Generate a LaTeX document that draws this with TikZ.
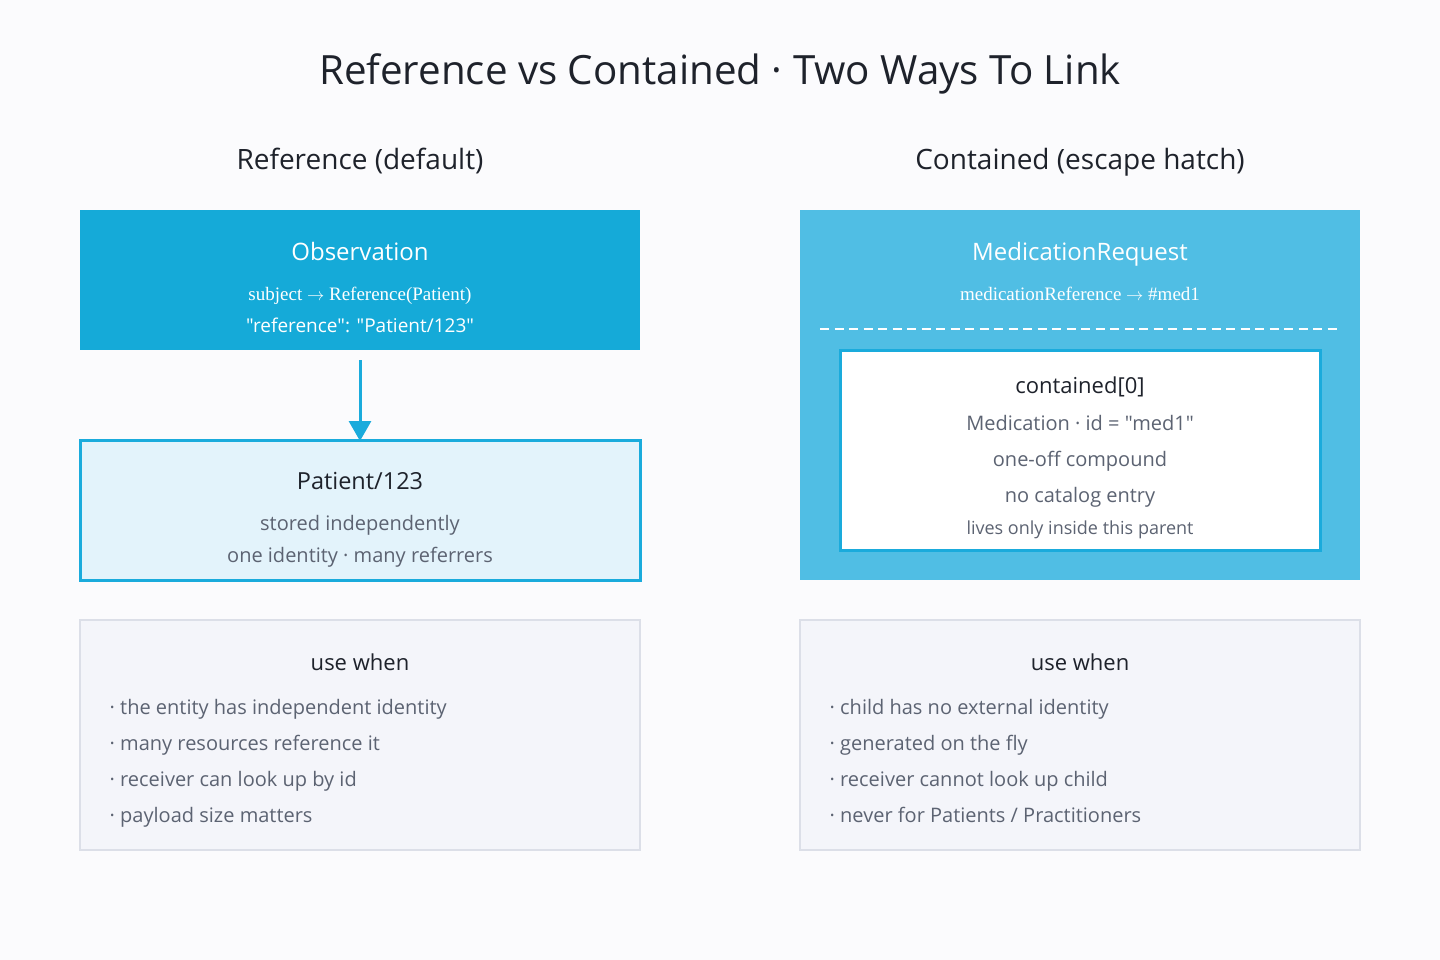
\documentclass[tikz,border=0pt]{standalone}
\usepackage{fontspec}
\setmainfont{Open Sans}[Ligatures=TeXOff]
\newfontfamily\serifx{Liberation Serif}
\usetikzlibrary{arrows.meta}
\definecolor{bg}{HTML}{FBFBFD}
\definecolor{obsblue}{HTML}{15AAD8}
\definecolor{medblue}{HTML}{50BEE4}
\definecolor{edgeblue}{HTML}{1AABDC}
\definecolor{patfill}{HTML}{E3F3FB}
\definecolor{usefill}{HTML}{F4F5FA}
\definecolor{useedge}{HTML}{DCDFE8}
\definecolor{darktext}{HTML}{1E222B}
\definecolor{graytext}{HTML}{5C6372}
\newcommand{\qq}{\symbol{34}}
\newcommand{\sarrow}{\ $\rightarrow$\ }
\tikzset{
  txt/.style={inner sep=0pt, anchor=base, align=center},
  fs/.style={font=\fontsize{#1}{#1}\selectfont},
}
\begin{document}
\begin{tikzpicture}[x=1pt,y=-1pt]
\fill[bg] (0,0) rectangle (1440,960);
\useasboundingbox (0,0) rectangle (1440,960);
% title
\node[txt,fs=40.3,text=darktext] (title) at (720,84.5) {Reference vs Contained · Two Ways To Link};
\node[txt,fs=28,text=darktext] (hl) at (360,170) {Reference (default)};
\node[txt,fs=28,text=darktext] (hr) at (1080,170) {Contained (escape hatch)};
% left: observation
\path[fill=obsblue] (80,210) rectangle (640,350);
\coordinate (obsbot) at (360,360);
\node[txt,fs=24,text=white] (obs) at (360,260.5) {Observation};
\node[txt,fs=19,text=white] (obs1) at (360,300) {\serifx subject\sarrow Reference(Patient)};
\node[txt,fs=19,text=white] (obs2) at (360,332) {\qq reference\qq: \qq Patient/123\qq};
% patient
\draw[fill=patfill, draw=edgeblue, line width=3pt] (80,440) rectangle (640,580);
\coordinate (pattop) at (360,441);
\node[txt,fs=23.5,text=darktext] (pat) at (360,489.5) {Patient/123};
\node[txt,fs=20,text=graytext] (pat1) at (360,530.2) {stored independently};
\node[txt,fs=20,text=graytext] (pat2) at (360,562.2) {one identity · many referrers};
\draw[edgeblue, line width=3pt, -{Triangle[length=20pt,width=22pt]}] (obsbot) -- (pattop);
% right: medication request
\path[fill=medblue] (800,210) rectangle (1360,580);
\node[txt,fs=24,text=white] (mr) at (1080,260.5) {MedicationRequest};
\node[txt,fs=19,text=white] (mr1) at (1080,300) {\serifx medicationReference\sarrow\#med1};
\coordinate (dl) at (820,329);
\coordinate (dr) at (1341,329);
\draw[white, line width=1.6pt, dash pattern=on 9pt off 5.5pt] (dl) -- (dr);
\draw[fill=white, draw=edgeblue, line width=3pt] (840,350) rectangle (1320,550);
\node[txt,fs=22,text=darktext] (ct) at (1080,393.9) {contained[0]};
\node[txt,fs=20,text=graytext] (ct1) at (1080,430.2) {Medication · id = \qq med1\qq};
\node[txt,fs=20,text=graytext] (ct2) at (1080,466.2) {one-off compound};
\node[txt,fs=20,text=graytext] (ct3) at (1080,502.2) {no catalog entry};
\node[txt,fs=18,text=graytext] (ct4) at (1080,534.5) {lives only inside this parent};
% use when boxes
\draw[fill=usefill, draw=useedge, line width=2pt] (80,620) rectangle (640,850);
\draw[fill=usefill, draw=useedge, line width=2pt] (800,620) rectangle (1360,850);
\node[txt,fs=22,text=darktext] (ul) at (360,670.5) {use when};
\node[txt,fs=22,text=darktext] (ur) at (1080,670.5) {use when};
\foreach \t [count=\i] in {the entity has independent identity, many resources reference it, receiver can look up by id, payload size matters}
  \node[inner sep=0pt, anchor=base west, fs=20, text=graytext] (l\i) at (109.5,678.2+\i*36) {· \t};
\foreach \t [count=\i] in {child has no external identity, generated on the fly, receiver cannot look up child, never for Patients / Practitioners}
  \node[inner sep=0pt, anchor=base west, fs=20, text=graytext] (r\i) at (829.5,678.2+\i*36) {· \t};
\end{tikzpicture}
\end{document}
